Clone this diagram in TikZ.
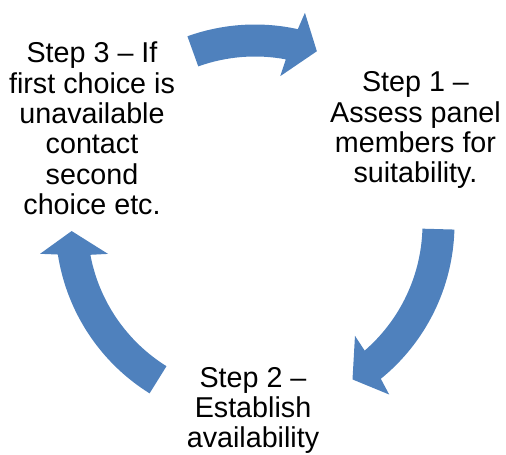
\documentclass[tikz,border=0pt]{standalone}
\usepackage{fontspec}
\setmainfont{Liberation Sans}
\definecolor{arrowblue}{RGB}{79,129,189}
% curved block arrow around the cycle centre, running clockwise:
% #1 tail angle, #2 angle of the head base, #3 tip angle
\newcommand\cyclearrowshape[3]{%
  \fill[arrowblue] (#1:199.5pt) arc[start angle=#1, end angle=#2-0.9, radius=199.5pt]
    -- (#2-1.8:217pt) -- (#3:183.5pt) -- (#2+1.8:150pt) -- (#2+0.9:167.5pt)
    arc[start angle=#2+0.9, end angle=#1, radius=167.5pt] -- cycle;}
\begin{document}
\begin{tikzpicture}[x=1pt,y=1pt,
  steptext/.style={align=center, inner sep=0pt, anchor=north,
    font=\fontsize{28.7}{30.3}\selectfont}]
\useasboundingbox (0,0) rectangle (506,455);
\coordinate (O) at (255,231);
\begin{scope}[shift={(O)}]
  \cyclearrowshape{109.8}{78.5}{70.3}
  \cyclearrowshape{-1.6}{-50}{-57.9}
  \cyclearrowshape{238.1}{189.7}{182.2}
\end{scope}
\node[steptext] (s1) at (415.5,383.4) {Step 1 –\\Assess panel\\members for\\suitability.};
\node[steptext] (s2) at (253,88) {Step 2 –\\Establish\\availability};
\node[steptext] (s3) at (92,413) {Step 3 – If\\first choice is\\unavailable\\contact\\second\\choice etc.};
\end{tikzpicture}
\end{document}
